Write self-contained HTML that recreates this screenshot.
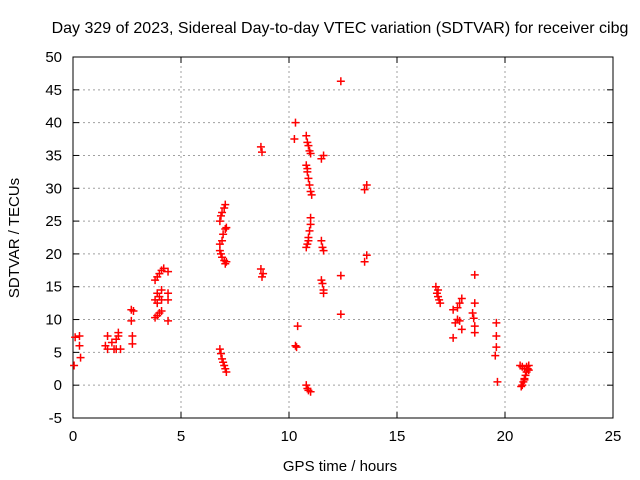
<!DOCTYPE html>
<html><head><meta charset="utf-8"><style>
body{margin:0;background:#fff}
svg{display:block;font-family:"Liberation Sans",sans-serif}
</style></head><body>
<svg id="chart" width="640" height="480" viewBox="0 0 640 480">
<rect width="640" height="480" fill="#fff"/>
<text x="340" y="33" text-anchor="middle" font-size="16">Day 329 of 2023, Sidereal Day-to-day VTEC variation (SDTVAR) for receiver cibg</text>
<g id="grid"></g>
<g id="axes"></g>
<g id="points"></g>
<text x="340" y="471" text-anchor="middle" font-size="15">GPS time / hours</text>
<text transform="translate(19,238) rotate(-90)" text-anchor="middle" font-size="15">SDTVAR / TECUs</text>
</svg>
<script>
const xTicks=[0,5,10,15,20,25];
const yTicks=[-5,0,5,10,15,20,25,30,35,40,45,50];
const gpsHours=[0.05,0.1,0.3,0.3,0.35,1.5,1.6,1.6,1.8,1.9,2.0,2.1,2.2,2.0,2.1,2.7,2.7,2.75,2.75,2.8,
3.8,3.9,4.0,4.1,4.2,3.8,3.9,4.0,4.1,3.9,4.1,3.8,3.9,4.0,4.1,4.4,4.4,4.4,4.4,
6.8,6.85,6.9,7.0,7.05,6.8,6.9,6.95,7.05,7.1,6.8,6.85,6.9,7.0,7.05,7.1,6.8,6.85,6.9,6.95,7.0,7.05,7.1,
8.7,8.75,8.7,8.75,8.8,10.3,10.25,10.4,10.3,10.35,
10.8,10.85,10.9,10.95,11.0,10.8,10.85,10.9,10.95,11.0,11.05,10.85,11.0,11.0,10.95,10.9,10.85,10.8,10.9,10.8,10.85,10.9,11.0,
11.6,11.5,11.5,11.55,11.6,11.5,11.55,11.6,11.6,12.4,12.4,12.4,13.6,13.5,13.6,13.5,
16.8,16.85,16.9,16.95,17.0,16.9,17.6,17.7,17.6,17.8,17.9,18.0,17.9,17.8,18.0,
18.6,18.6,18.5,18.55,18.6,18.6,19.6,19.6,19.6,19.55,19.65,
20.7,20.8,20.9,21.0,21.1,20.8,20.85,20.9,20.95,21.0,21.05,20.75,21.1,20.9];
const sdtvar=[3,7.3,7.5,6,4.2,6,5.5,7.5,6.5,5.5,7,8,5.5,5.5,7.5,11.5,9.8,7.5,6.3,11.3,
16,16.5,17,17.5,17.8,13,14,13.5,14.5,12.5,13,10.3,10.6,11,11.3,17.3,14,13,9.8,
25,25.8,26.3,27,27.5,21.5,22,23,23.8,24,20.5,20,19.5,19,18.5,18.8,5.5,4.8,4,3.5,3,2.5,2,
36.3,35.5,17.7,16.5,17,40,37.5,9,6,5.8,
38,37,36.5,35.7,35.3,33.5,32.5,31.5,30.5,29.5,29,33,25.5,24.5,23.5,22.5,21.5,21,22,0,-0.5,-0.8,-1,
35,34.5,22,21,20.5,16,15.5,14.5,14,46.3,16.7,10.8,30.5,29.8,19.8,18.8,
15,14,13.5,13,12.5,14.5,11.5,9.5,7.2,10,12.5,13.2,9.8,11.8,8.5,
16.8,12.5,11,10.2,9,8,9.5,7.5,5.8,4.5,0.5,
3,2.8,2.5,2.8,2.3,0,0.5,1,1.5,2,2.5,-0.2,3,0.8];
const X0=73,X1=613,Y0=418,Y1=57;
function sx(v){return X0+(v-0)/(25-0)*(X1-X0);}
function sy(v){return Y0-(v+5)/(55)*(Y0-Y1);}
const NS="http://www.w3.org/2000/svg";
function mk(tag,attrs,parent){const e=document.createElementNS(NS,tag);for(const k in attrs)e.setAttribute(k,attrs[k]);parent.appendChild(e);return e;}
const grid=document.getElementById('grid'),axes=document.getElementById('axes'),pts=document.getElementById('points');
xTicks.forEach(t=>{
  if(t>0&&t<25){const l=mk('line',{x1:sx(t),x2:sx(t),y1:Y0,y2:Y1,stroke:'#a0a0a0','stroke-dasharray':'2,3'},grid);
  
  }
  mk('line',{x1:sx(t),x2:sx(t),y1:Y0,y2:Y0-6,stroke:'#000'},axes);
  mk('line',{x1:sx(t),x2:sx(t),y1:Y1,y2:Y1+6,stroke:'#000'},axes);
  const tx=mk('text',{x:sx(t),y:Y0+23,'text-anchor':'middle','font-size':'15'},axes);
  tx.textContent=t;
  
  
});
yTicks.forEach(t=>{
  if(t>-5&&t<50){const l=mk('line',{x1:X0,x2:X1,y1:sy(t),y2:sy(t),stroke:'#a0a0a0','stroke-dasharray':'2,3'},grid);
  
  }
  mk('line',{x1:X0,x2:X0+6,y1:sy(t),y2:sy(t),stroke:'#000'},axes);
  mk('line',{x1:X1,x2:X1-6,y1:sy(t),y2:sy(t),stroke:'#000'},axes);
  const tx=mk('text',{x:X0-11,y:sy(t)+5,'text-anchor':'end','font-size':'15'},axes);
  tx.textContent=t;
  
  
});
mk('rect',{x:X0,y:Y1,width:X1-X0,height:Y0-Y1,fill:'none',stroke:'#000'},axes);
gpsHours.forEach((h,i)=>{
  const x=sx(h),y=sy(sdtvar[i]);
  const p=mk('path',{d:`M${x-4},${y}H${x+4}M${x},${y-4}V${y+4}`,stroke:'#f00','stroke-width':'1.5',fill:'none'},pts);
  
  
});
</script>
</body></html>
